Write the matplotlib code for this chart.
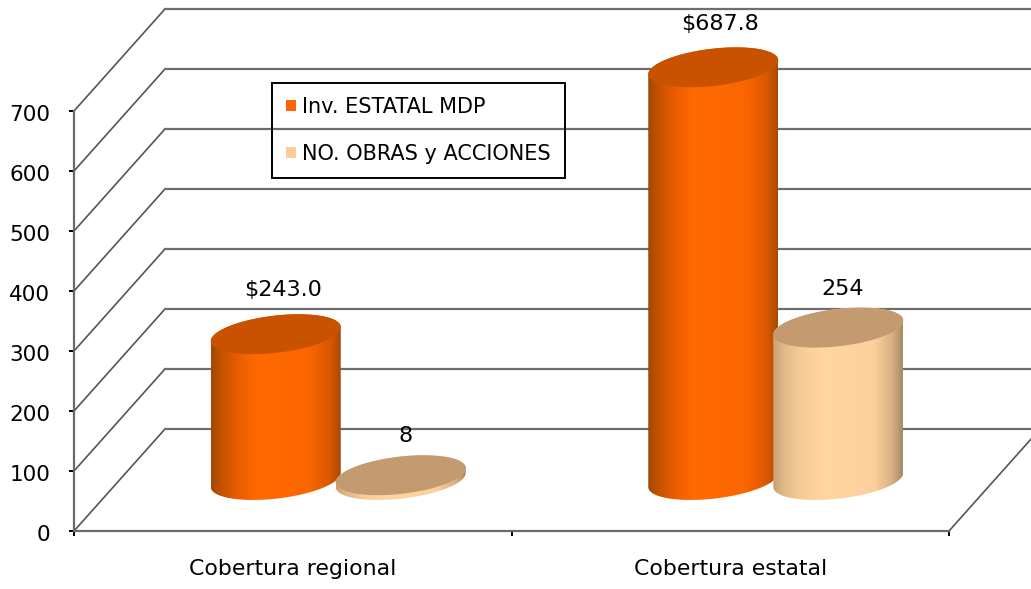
import numpy as np
import matplotlib
matplotlib.use("Agg")
import matplotlib.pyplot as plt
from matplotlib.colors import LinearSegmentedColormap
from matplotlib.patches import Patch, Polygon
from matplotlib.transforms import ScaledTranslation

categories = ["Cobertura regional", "Cobertura estatal"]
series_names = ["Inv. ESTATAL MDP", "NO. OBRAS y ACCIONES"]
inversion = [243.0, 687.8]
obras = [8, 254]
inversion_labels = ["\\$243.0", "\\$687.8"]
obras_labels = ["8", "254"]
y_ticks = [0, 100, 200, 300, 400, 500, 600, 700]

W, H = 1031, 589
PX_X = 437.5  # pixels per category
PX_Y = 0.6  # pixels per value unit
X0, Y0 = 74, 531  # pixel position of the origin

# 3d look, in data units
DEPTH_X = 91 / PX_X
DEPTH_Y = 102 / PX_Y
BASE = 51 / PX_Y
A = 65 / PX_X
B = 18.7 / PX_Y
SHEAR = 7 / PX_Y

fig = plt.figure(figsize=(W / 100, H / 100), dpi=100)
ax = fig.add_axes([0, 0, 1, 1])
ax.patch.set_alpha(0)
x_lim = (-X0 / PX_X, (W - X0) / PX_X)
y_lim = ((Y0 - H) / PX_Y, Y0 / PX_Y)
ax.set_xlim(x_lim)
ax.set_ylim(y_lim)

for s in ["top", "right"]:
    ax.spines[s].set_visible(False)
for s in ["left", "bottom"]:
    ax.spines[s].set_position(("data", 0))
    ax.spines[s].set_color("#6a6a6a")
    ax.spines[s].set_linewidth(1.6)
ax.spines["left"].set_bounds(0, 700)
ax.spines["bottom"].set_bounds(0, 2)

ax.set_yticks(y_ticks)
ax.tick_params(axis="y", length=3.6, width=1.4, color="black", pad=13.5, labelsize=15.5)
for t in ax.get_yticklabels():
    t.set_transform(t.get_transform() + ScaledTranslation(0, -2 / 100, fig.dpi_scale_trans))
ax.set_xticks([0, 1, 2])
ax.set_xticklabels([])
ax.set_xticks([0.5, 1.5], minor=True)
ax.set_xticklabels(categories, minor=True)
ax.tick_params(axis="x", which="major", length=3.6, width=1.4, color="black")
ax.tick_params(axis="x", which="minor", length=0, pad=20.5, labelsize=15.8)

# walls
for v in y_ticks:
    ax.plot([0, DEPTH_X], [v, v + DEPTH_Y], color="#555555", lw=1.2, zorder=1)
    ax.plot([DEPTH_X, x_lim[1]], [v + DEPTH_Y, v + DEPTH_Y], color="#6e6e6e", lw=1.6, zorder=1)
ax.plot([2, 2 + DEPTH_X], [0, DEPTH_Y], color="#555555", lw=1.2, zorder=1)

orange_map = LinearSegmentedColormap.from_list(
    "orange",
    [(0, "#a04a00"), (0.08, "#c45200"), (0.2, "#e85c00"), (0.35, "#ff6a00"),
     (0.75, "#fc6600"), (0.92, "#d85800"), (1, "#a84a00")],
)
cream_map = LinearSegmentedColormap.from_list(
    "cream",
    [(0, "#c8a274"), (0.08, "#e0b888"), (0.22, "#f8cc98"), (0.4, "#ffd6a0"),
     (0.78, "#fcd09c"), (0.92, "#d8b084"), (1, "#a88a62")],
)


def ellipse(xc, yc):
    t = np.linspace(0, 2 * np.pi, 200)
    return xc + A * np.cos(t), yc + B * np.sin(t) + SHEAR * np.cos(t)


def cylinder(xc, value, cmap, cap_color, z):
    top = BASE + value
    t = np.linspace(0, np.pi, 100)
    # lower half of the base, upper side closed by the cap outline
    low_x = xc - A * np.cos(t)
    low_y = BASE - B * np.sin(t) - SHEAR * np.cos(t)
    up_x = xc + A * np.cos(t)
    up_y = top + B * np.sin(t) + SHEAR * np.cos(t)
    body = np.column_stack([np.r_[low_x, up_x], np.r_[low_y, up_y]])
    clip = Polygon(body, closed=True, transform=ax.transData, fc="none", ec="none")
    ax.add_patch(clip)
    grad = np.linspace(0, 1, 256).reshape(1, -1)
    img = ax.imshow(
        grad, cmap=cmap, aspect="auto", zorder=z, interpolation="bilinear",
        extent=(xc - A, xc + A, BASE - B - SHEAR, top + B + SHEAR),
    )
    img.set_clip_path(clip)
    cx, cy = ellipse(xc, top)
    ax.fill(cx, cy, color=cap_color, lw=0, zorder=z + 0.1)


offset = 62.5 / PX_X
shift = DEPTH_X / 2
for i in range(len(categories)):
    xc = i + 0.5 + shift - offset
    cylinder(xc, inversion[i], orange_map, "#c85200", 3 + i * 2)
    ax.annotate(inversion_labels[i], (xc, BASE + inversion[i]), xytext=(5, 31.5),
                textcoords="offset points", ha="center", va="center", fontsize=16)
    xc = i + 0.5 + shift + offset
    cylinder(xc, obras[i], cream_map, "#c49a70", 4 + i * 2)
    ax.annotate(obras_labels[i], (xc, BASE + obras[i]), xytext=(3.5, 28),
                textcoords="offset points", ha="center", va="center", fontsize=16)

ax.set_xlim(x_lim)
ax.set_ylim(y_lim)

handles = [Patch(fc="#ff6600", ec="none"), Patch(fc="#ffcc99", ec="none")]
leg = ax.legend(
    handles, series_names, loc="upper left", bbox_to_anchor=(272 / W, 1 - 83 / H),
    borderaxespad=0, fontsize=15, frameon=True, fancybox=False,
    edgecolor="black", handlelength=0.48, handleheight=0.48, handletextpad=0.29,
    borderpad=0.67, labelspacing=1.3,
)
leg.get_frame().set_facecolor("none")
leg.get_frame().set_alpha(None)
leg.get_frame().set_edgecolor("black")
leg.get_frame().set_linewidth(1.4)
leg.set_zorder(20)

fig.savefig("out.png", dpi=100)
